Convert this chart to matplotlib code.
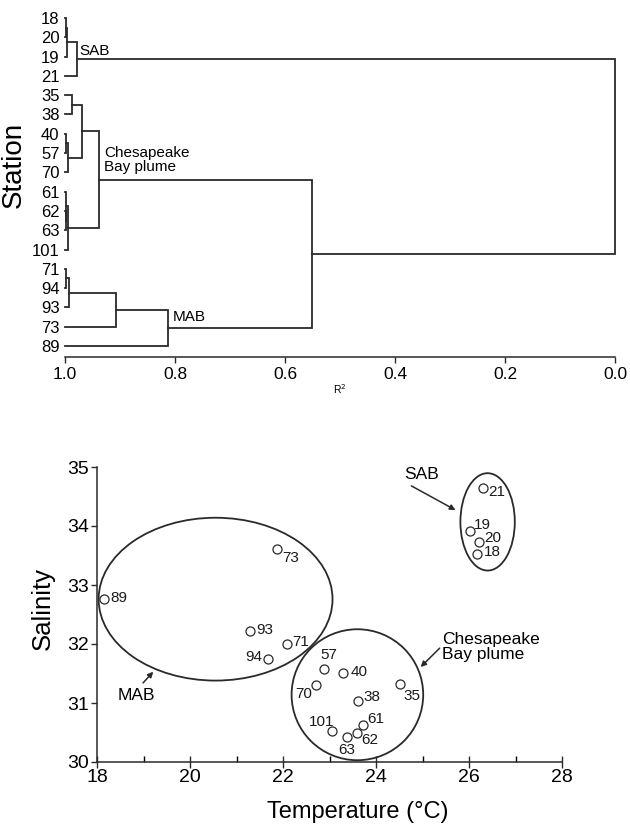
import matplotlib
matplotlib.use('Agg')
import matplotlib.pyplot as plt
from matplotlib.patches import Ellipse

plt.rcParams['font.family'] = ['Liberation Sans', 'DejaVu Sans']

# ---- dendrogram data (R^2 similarity) ----
stations = ['18', '20', '19', '21', '35', '38', '40', '57', '70',
            '61', '62', '63', '101', '71', '94', '93', '73', '89']
# merges: (left node, right node, R^2); leaves are 0..17, merges 18..
merge_left = [0, 18, 19, 4, 6, 22, 21, 10, 9, 26, 24, 13, 29, 30, 31, 28, 20]
merge_right = [1, 2, 3, 5, 7, 8, 23, 11, 25, 12, 27, 14, 15, 16, 17, 32, 33]
merge_r2 = [0.999, 0.996, 0.978, 0.987, 0.999, 0.994, 0.969, 0.999, 0.998,
            0.994, 0.938, 0.999, 0.993, 0.907, 0.813, 0.551, 0.0]

# ---- T-S data ----
pt_labels = ['21', '19', '20', '18', '73', '89', '93', '71', '94',
             '57', '40', '70', '35', '38', '61', '62', '63', '101']
temperature = [26.30, 26.02, 26.21, 26.17, 21.87, 18.16, 21.30, 22.09, 21.68,
               22.89, 23.30, 22.72, 24.51, 23.61, 23.73, 23.60, 23.38, 23.06]
salinity = [34.65, 33.91, 33.73, 33.53, 33.61, 32.76, 32.22, 32.00, 31.75,
            31.58, 31.51, 31.30, 31.32, 31.03, 30.63, 30.49, 30.42, 30.52]

# group ellipses: centre T, centre S, width, height
groups = ['MAB', 'Chesapeake', 'SAB']
ell_t = [20.55, 23.60, 26.40]
ell_s = [32.76, 31.14, 34.07]
ell_w = [5.03, 2.83, 1.17]
ell_h = [2.76, 2.22, 1.65]

# label placement (offset points, alignment) for each point label
lab_off = {'21': (4, -3, 'left'), '19': (3, 4.5, 'left'), '20': (4, 3, 'left'),
           '18': (5, 1.5, 'left'), '73': (3.5, -6.5, 'left'), '89': (4, 1, 'left'),
           '93': (4, 1, 'left'), '71': (4, 1.5, 'left'), '94': (-4, 1, 'right'),
           '57': (3.5, 10, 'center'), '40': (5, 1, 'left'), '70': (-3, -6.5, 'right'),
           '35': (2.5, -8.5, 'left'), '38': (4, 3, 'left'), '61': (3, 4.5, 'left'),
           '62': (2.5, -5, 'left'), '63': (0, -9, 'center'), '101': (1.5, 7, 'right')}

LC = '#2a2a2a'

fig = plt.figure(figsize=(6.3, 8.24), dpi=100)

# ================= dendrogram =================
ax1 = fig.add_axes([65/630, 1-357/824, 550/630, 349/824])
pos = {i: float(i) for i in range(len(stations))}
hgt = {i: 1.0 for i in range(len(stations))}
node = len(stations)
for a, b, h in zip(merge_left, merge_right, merge_r2):
    ax1.plot([hgt[a], h, h, hgt[b]], [pos[a], pos[a], pos[b], pos[b]],
             color=LC, lw=1.3, clip_on=False, solid_joinstyle='miter')
    pos[node] = (pos[a] + pos[b]) / 2
    hgt[node] = h
    node += 1

ax1.set_xlim(1.0, 0.0)
ax1.set_ylim(17.57, -0.52)
ax1.set_yticks(range(len(stations)))
ax1.set_yticklabels(stations, fontsize=12)
ax1.tick_params(axis='y', length=0, pad=4)
ax1.set_xticks([1.0, 0.8, 0.6, 0.4, 0.2, 0.0])
ax1.set_xticklabels(['1.0', '0.8', '0.6', '0.4', '0.2', '0.0'], fontsize=12.5)
ax1.tick_params(axis='x', direction='out', length=4, width=1, color=LC, pad=3)
for s in ['top', 'right', 'left']:
    ax1.spines[s].set_visible(False)
ax1.spines['bottom'].set_color(LC)
ax1.spines['bottom'].set_linewidth(1.1)
ax1.set_xlabel('R$^2$', fontsize=7.5, labelpad=0)
ax1.set_ylabel('Station', fontsize=20)
ax1.yaxis.set_label_coords(-0.069, 0.55)

ax1.text(0.973, 1.71, 'SAB', fontsize=11, ha='left', va='center')
ax1.text(0.929, 7.36, 'Chesapeake\nBay plume', fontsize=11, ha='left', va='center',
         linespacing=0.95)
ax1.text(0.804, 15.5, 'MAB', fontsize=11, ha='left', va='center')

# ================= T-S scatter =================
ax2 = fig.add_axes([97/630, 1-762/824, 465/630, 295/824])
ax2.plot(temperature, salinity, 'o', ms=6.5, mfc='white', mec=LC, mew=0.9,
         clip_on=False, zorder=3)
for lab, t, s in zip(pt_labels, temperature, salinity):
    dx, dy, ha = lab_off[lab]
    ax2.annotate(lab, (t, s), xytext=(dx, dy), textcoords='offset points',
                 ha=ha, va='center', fontsize=11, color='#1a1a1a')

for t, s, w, h in zip(ell_t, ell_s, ell_w, ell_h):
    ax2.add_patch(Ellipse((t, s), w, h, fill=False, ec=LC, lw=1.3, clip_on=False))

arrow = dict(arrowstyle='-|>', color=LC, lw=1.1, mutation_scale=8, shrinkA=0, shrinkB=0)
ax2.text(24.97, 34.88, 'SAB', fontsize=12.5, ha='center', va='center')
ax2.annotate('', xy=(25.71, 34.27), xytext=(24.76, 34.68), arrowprops=arrow)
ax2.text(25.43, 31.95, 'Chesapeake\nBay plume', fontsize=12.5, ha='left', va='center',
         linespacing=0.95)
ax2.annotate('', xy=(24.96, 31.61), xytext=(25.37, 31.93), arrowprops=arrow)
ax2.text(18.84, 31.12, 'MAB', fontsize=12.5, ha='center', va='center')
ax2.annotate('', xy=(19.21, 31.53), xytext=(18.99, 31.34), arrowprops=arrow)

ax2.set_xlim(18, 28)
ax2.set_ylim(30, 35)
ax2.set_xticks([18, 20, 22, 24, 26, 28])
ax2.set_xticks([19, 21, 23, 25, 27], minor=True)
ax2.set_yticks([30, 31, 32, 33, 34, 35])
ax2.tick_params(axis='both', labelsize=14, color=LC, width=1)
ax2.tick_params(axis='x', which='major', direction='inout', length=8, pad=1)
ax2.tick_params(axis='x', which='minor', direction='in', length=4, width=1)
ax2.tick_params(axis='y', which='major', direction='out', length=4, pad=2)
for s in ['top', 'right']:
    ax2.spines[s].set_visible(False)
for s in ['left', 'bottom']:
    ax2.spines[s].set_color(LC)
    ax2.spines[s].set_linewidth(1.1)
ax2.set_xlabel('Temperature (°C)', fontsize=17)
ax2.xaxis.set_label_coords(0.56, -0.133)
ax2.set_ylabel('Salinity', fontsize=18.5)
ax2.yaxis.set_label_coords(-0.09, 0.52)

fig.savefig('out.png', dpi=100)
